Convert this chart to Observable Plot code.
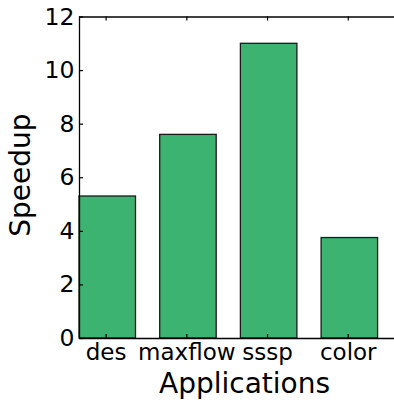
<!DOCTYPE html>
<html>
<head>
<meta charset="utf-8">
<script src="https://cdn.jsdelivr.net/npm/d3@7"></script>
<script src="https://cdn.jsdelivr.net/npm/@observablehq/plot@0.6"></script>
<style>
  html, body { margin: 0; padding: 0; background: #fff; }
  svg { display: block; }
</style>
</head>
<body>
<div id="chart"></div>
<script>
const categories = ["des", "maxflow", "sssp", "color"];
const speedups = [5.3, 7.6, 11.0, 3.75];
const yTicks = [0, 2, 4, 6, 8, 10, 12];

const barWidth = 0.7;
const tickOffset = 0.33;
const data = categories.map((c, i) => ({name: c, i, value: speedups[i]}));
const xTickPos = categories.map((c, i) => i + tickOffset);

const font = "DejaVu Sans";

const chart = Plot.plot({
  width: 394,
  height: 402,
  marginLeft: 79,
  marginRight: 0,
  marginTop: 16.5,
  marginBottom: 64,
  style: {fontFamily: font, color: "#000", background: "#fff"},
  x: {type: "linear", domain: [0, 4], range: [79, 401.8]},
  y: {domain: [0, 12], range: [338, 16.5]},
  marks: [
    Plot.rect(data, {
      x1: d => d.i, x2: d => d.i + barWidth,
      y1: 0, y2: d => d.value,
      fill: "#3cb371", stroke: "#1a1a1a", strokeWidth: 1.3
    }),
    // frame lines (matplotlib spines)
    Plot.ruleY([0, 12], {stroke: "#000", strokeWidth: 1.3}),
    Plot.ruleX([0], {y1: 0, y2: 12, stroke: "#000", strokeWidth: 1.3}),
    // inward ticks
    Plot.ruleY(yTicks, {x1: 0, x2: 0.05, stroke: "#000", strokeWidth: 1.2}),
    Plot.ruleX(xTickPos, {y1: 0, y2: 0.15, stroke: "#000", strokeWidth: 1.2}),
    Plot.ruleX(xTickPos, {y1: 12, y2: 11.85, stroke: "#000", strokeWidth: 1.2}),
    Plot.axisY({
      ticks: yTicks, tickSize: 0, tickPadding: 5, fontSize: 23.5,
      label: null, anchor: "left"
    }),
    Plot.axisX({
      ticks: xTickPos, tickSize: 0, tickPadding: 5.5, fontSize: 23,
      tickFormat: (d, i) => categories[i], label: null, anchor: "bottom"
    }),
    Plot.text(["Speedup"], {
      frameAnchor: "left", rotate: -90, dx: -50, dy: 59,
      lineAnchor: "bottom", fontSize: 28, fill: "#000"
    }),
    Plot.text(["Applications"], {
      frameAnchor: "bottom", dx: 7.5, dy: 54,
      lineAnchor: "bottom", fontSize: 28, fill: "#000"
    })
  ]
});

document.getElementById("chart").appendChild(chart);
</script>
</body>
</html>
